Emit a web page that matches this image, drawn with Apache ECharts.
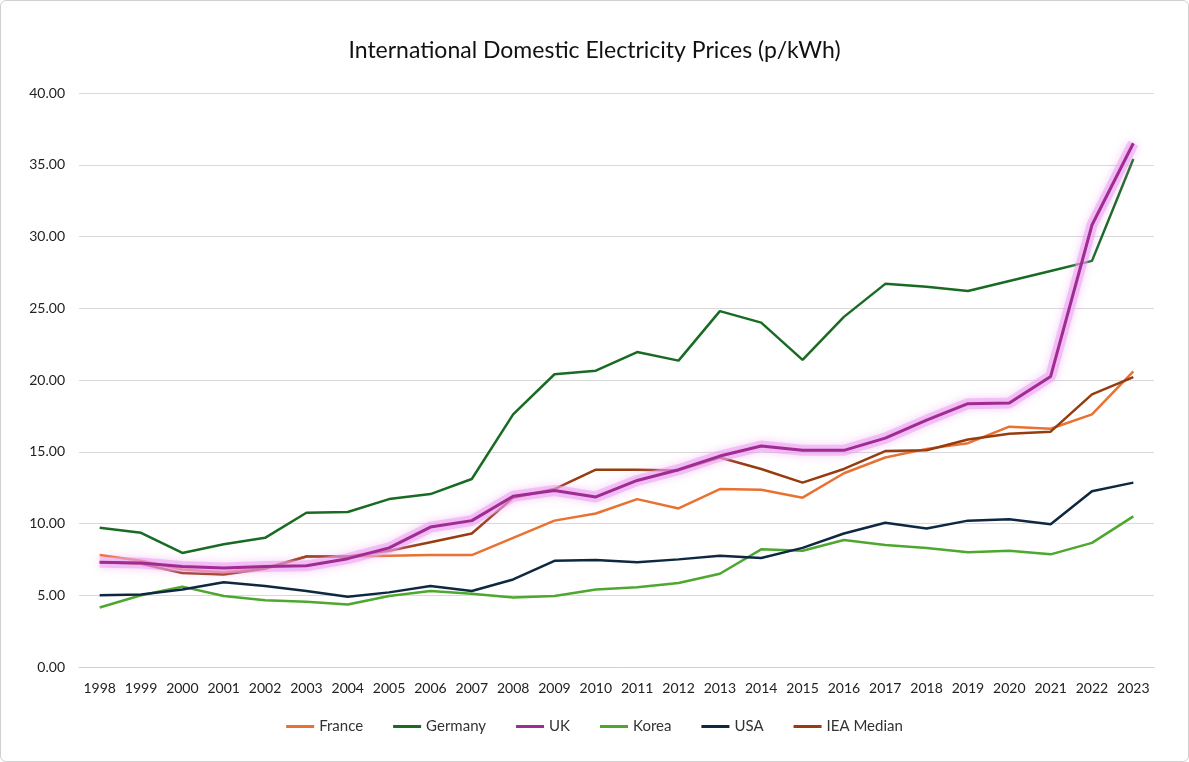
<!DOCTYPE html>
<html>
<head>
<meta charset="utf-8">
<script src="https://cdn.jsdelivr.net/npm/echarts@6/dist/echarts.min.js"></script>
<style>
  html, body { margin: 0; padding: 0; background: #fff; }
  #chart { width: 1189px; height: 762px; box-sizing: border-box; border: 1px solid #d0d0d0; border-radius: 6px; }
</style>
</head>
<body>
<div id="chart"></div>
<script>
// years along the x axis
var years = ['1998','1999','2000','2001','2002','2003','2004','2005','2006','2007','2008','2009','2010',
             '2011','2012','2013','2014','2015','2016','2017','2018','2019','2020','2021','2022','2023'];

// p/kWh
var france  = [7.8, 7.4, 6.8, 6.6, 6.9, 7.7, 7.7, 7.75, 7.8, 7.8, 9.0, 10.2, 10.7, 11.7, 11.05, 12.4, 12.35, 11.8, 13.5, 14.6, 15.2, 15.6, 16.75, 16.6, 17.6, 20.6];
var germany = [9.7, 9.35, 7.95, 8.55, 9.0, 10.75, 10.8, 11.7, 12.05, 13.1, 17.6, 20.4, 20.65, 21.95, 21.35, 24.8, 24.0, 21.4, 24.4, 26.7, 26.5, 26.2, 26.9, 27.6, 28.3, 35.4];
var uk      = [7.3, 7.25, 7.0, 6.9, 7.0, 7.05, 7.55, 8.3, 9.75, 10.2, 11.9, 12.3, 11.85, 13.0, 13.75, 14.7, 15.4, 15.1, 15.1, 15.95, 17.2, 18.35, 18.4, 20.25, 30.8, 36.5];
var korea   = [4.15, 5.0, 5.6, 4.95, 4.65, 4.55, 4.35, 4.95, 5.3, 5.1, 4.85, 4.95, 5.4, 5.55, 5.85, 6.5, 8.2, 8.1, 8.85, 8.5, 8.3, 8.0, 8.1, 7.85, 8.65, 10.5];
var usa     = [5.0, 5.05, 5.4, 5.9, 5.65, 5.3, 4.9, 5.2, 5.65, 5.3, 6.1, 7.4, 7.45, 7.3, 7.5, 7.75, 7.6, 8.3, 9.3, 10.05, 9.65, 10.2, 10.3, 9.95, 12.25, 12.85];
var ieaMed  = [7.3, 7.2, 6.55, 6.45, 6.85, 7.7, 7.7, 8.1, 8.7, 9.3, 11.8, 12.4, 13.75, 13.75, 13.7, 14.6, 13.8, 12.85, 13.8, 15.05, 15.1, 15.85, 16.25, 16.4, 19.0, 20.2];

var chart = echarts.init(document.getElementById('chart'));

function line(name, data, color, extra) {
    var s = {
        name: name,
        type: 'line',
        data: data,
        symbol: 'none',
        lineStyle: { color: color, width: 2.5 },
        itemStyle: { color: color },
        animation: false
    };
    if (extra) s.lineStyle = Object.assign(s.lineStyle, extra);
    return s;
}

chart.setOption({
    textStyle: { fontFamily: 'Lato, "Open Sans", sans-serif' },
    title: {
        text: 'International Domestic Electricity Prices (p/kWh)',
        left: 'center',
        top: 33,
        textStyle: { fontSize: 23, fontWeight: 'normal', color: '#111' }
    },
    legend: {
        bottom: 22,
        itemWidth: 28,
        itemHeight: 3,
        itemGap: 30,
        icon: 'rect',
        textStyle: { fontSize: 15, color: '#333' },
        data: ['France', 'Germany', 'UK', 'Korea', 'USA', 'IEA Median']
    },
    grid: { left: 78, right: 34, top: 92, bottom: 94 },
    xAxis: {
        type: 'category',
        data: years,
        boundaryGap: true,
        axisLine: { lineStyle: { color: '#d0d0d0' } },
        axisTick: { show: false },
        axisLabel: { color: '#222', fontSize: 14, interval: 0, margin: 14 }
    },
    yAxis: {
        type: 'value',
        min: 0,
        max: 40,
        interval: 5,
        axisLine: { show: false },
        axisTick: { show: false },
        axisLabel: { color: '#222', fontSize: 14, formatter: function (v) { return v.toFixed(2); }, margin: 14 },
        splitLine: { lineStyle: { color: '#d9d9d9' } }
    },
    series: [
        line('France', france, '#E97132'),
        line('Germany', germany, '#196B24'),
        line('Korea', korea, '#4EA72E'),
        line('USA', usa, '#0E2841'),
        line('IEA Median', ieaMed, '#963C0E'),
        // soft halo under the UK line
        line('UK glow', uk, 'rgba(235,160,240,0.55)', { width: 11, shadowBlur: 8, shadowColor: 'rgba(235,150,240,0.8)' }),
        line('UK', uk, '#A02B93', { width: 3 })
    ]
});
</script>
</body>
</html>
